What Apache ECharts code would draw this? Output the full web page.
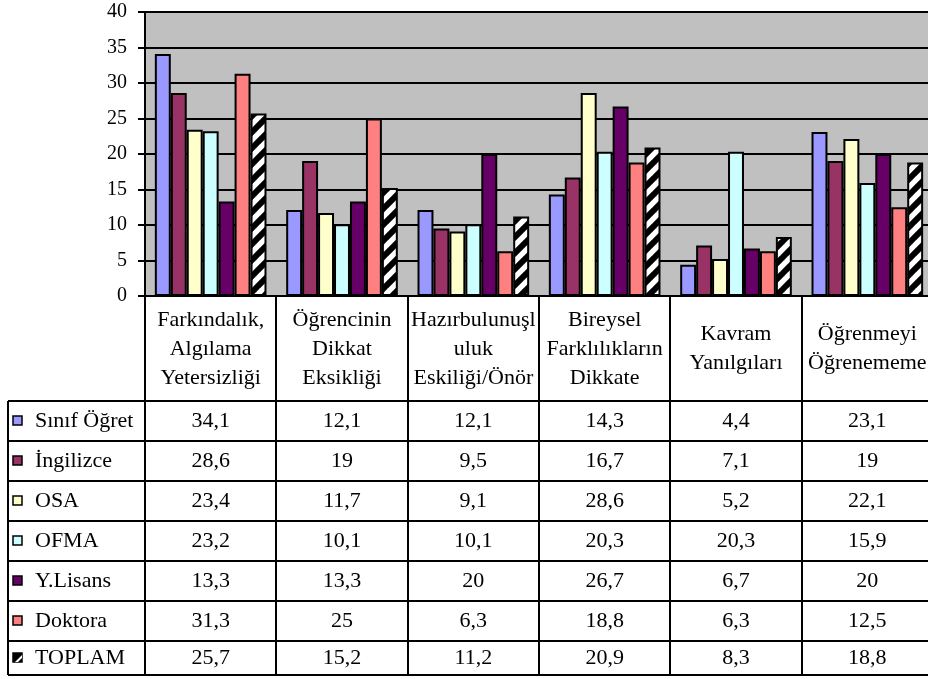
<!DOCTYPE html>
<html>
<head>
<meta charset="utf-8">
<script src="https://cdn.jsdelivr.net/npm/echarts@6/dist/echarts.min.js"></script>
<style>html,body{margin:0;padding:0;background:#fff}#c{width:928px;height:679px}</style>
</head>
<body>
<div id="c"></div>
<script>
// ---- data ----
const categories = ['Farkındalık,\nAlgılama\nYetersizliği', 'Öğrencinin\nDikkat\nEksikliği', 'Hazırbulunuşl\nuluk\nEskiliği/Önör', 'Bireysel\nFarklılıkların\nDikkate', 'Kavram\nYanılgıları', 'Öğrenmeyi\nÖğrenememe'];
const seriesNames = ['Sınıf Öğret', 'İngilizce', 'OSA', 'OFMA', 'Y.Lisans', 'Doktora', 'TOPLAM'];
const sinifOgret = [34.1, 12.1, 12.1, 14.3, 4.4, 23.1];
const ingilizce = [28.6, 19, 9.5, 16.7, 7.1, 19];
const osa = [23.4, 11.7, 9.1, 28.6, 5.2, 22.1];
const ofma = [23.2, 10.1, 10.1, 20.3, 20.3, 15.9];
const yLisans = [13.3, 13.3, 20, 26.7, 6.7, 20];
const doktora = [31.3, 25, 6.3, 18.8, 6.3, 12.5];
const toplam = [25.7, 15.2, 11.2, 20.9, 8.3, 18.8];
const seriesValues = [sinifOgret, ingilizce, osa, ofma, yLisans, doktora, toplam];
const yMin = 0, yMax = 40, yInterval = 5;

// ---- styles ----
const FONT = 'Liberation Serif';
const FS = 22;
const GRID = { left: 145, top: 12, width: 788, height: 284 };
const HEADER_BOTTOM = 401;
const ROW_H = 40;
const TABLE_BOTTOM = 675;
const TABLE_LEFT = 8;

function makeHatch(size, lw) {
  const cv = document.createElement('canvas');
  cv.width = size; cv.height = size;
  const ctx = cv.getContext('2d');
  ctx.fillStyle = '#fff';
  ctx.fillRect(0, 0, size, size);
  ctx.strokeStyle = '#000';
  ctx.lineWidth = lw;
  for (let k = -1; k <= 1; k++) {
    ctx.beginPath();
    ctx.moveTo(k * size - 2, size + 2);
    ctx.lineTo(k * size + size + 2, -2);
    ctx.stroke();
  }
  return cv;
}
const hatch = makeHatch(16, 6);
const colors = ['#9999FF', '#993366', '#FFFFCC', '#CCFFFF', '#660066', '#FF8080', { image: hatch, repeat: 'repeat' }];

const chart = echarts.init(document.getElementById('c'), null, { renderer: 'canvas' });

const series = seriesNames.map((n, i) => ({
  name: n,
  type: 'bar',
  data: seriesValues[i],
  barGap: '0%',
  barCategoryGap: '15%',
  itemStyle: { color: colors[i], borderColor: '#000', borderWidth: 2 },
  emphasis: { disabled: true },
  animation: false
}));

chart.setOption({
  animation: false,
  grid: {
    left: GRID.left, top: GRID.top, width: GRID.width, height: GRID.height,
    show: true, backgroundColor: '#C0C0C0', borderWidth: 0,
    containLabel: false, outerBoundsMode: 'none'
  },
  xAxis: {
    type: 'category',
    data: categories,
    axisLine: { show: true, lineStyle: { color: '#000', width: 2 } },
    axisTick: { show: false },
    splitLine: { show: false },
    axisLabel: {
      interval: 0,
      color: '#000',
      fontFamily: FONT,
      fontSize: FS,
      lineHeight: 29,
      verticalAlign: 'middle',
      align: 'center',
      margin: 53,
      hideOverlap: false
    }
  },
  yAxis: {
    type: 'value',
    min: yMin, max: yMax, interval: yInterval,
    axisLine: { show: true, lineStyle: { color: '#000', width: 2 } },
    axisTick: { show: true, length: 7, lineStyle: { color: '#000', width: 2 } },
    splitLine: { show: true, lineStyle: { color: '#000', width: 2 } },
    axisLabel: { color: '#000', fontFamily: FONT, fontSize: 20, margin: 18 }
  },
  series: series
});

// ---- data table (text drawn from the arrays, positions from the axis) ----
const centers = categories.map((c, i) => chart.convertToPixel({ xAxisIndex: 0 }, i));
const band = centers[1] - centers[0];
const elements = [];
const lineStyle = { stroke: '#000', lineWidth: 2 };
elements.push({ type: 'line', shape: { x1: TABLE_LEFT, y1: HEADER_BOTTOM, x2: TABLE_LEFT, y2: TABLE_BOTTOM }, style: lineStyle, z: 100 });
for (let i = 0; i <= categories.length; i++) {
  const x = Math.round(centers[0] - band / 2 + i * band);
  elements.push({ type: 'line', shape: { x1: x, y1: GRID.top + GRID.height, x2: x, y2: TABLE_BOTTOM }, style: lineStyle, z: 100 });
}
for (let r = 0; r <= seriesNames.length; r++) {
  const y = r < seriesNames.length ? HEADER_BOTTOM + r * ROW_H : TABLE_BOTTOM;
  elements.push({ type: 'line', shape: { x1: TABLE_LEFT, y1: y, x2: 940, y2: y }, style: lineStyle, z: 100 });
}
seriesNames.forEach((name, r) => {
  const top = HEADER_BOTTOM + r * ROW_H;
  const bottom = r < seriesNames.length - 1 ? top + ROW_H : TABLE_BOTTOM;
  const cy = (top + bottom) / 2;
  if (r < seriesNames.length - 1) {
    elements.push({ type: 'rect', shape: { x: 13, y: Math.round(cy - 5), width: 9, height: 9 }, style: { fill: colors[r], stroke: '#000', lineWidth: 1.5 }, z: 101 });
  } else {
    const x0 = 13, y0 = Math.round(cy - 5);
    elements.push({ type: 'rect', shape: { x: x0, y: y0, width: 9, height: 9 }, style: { fill: '#000', stroke: '#000', lineWidth: 1.5 }, z: 101 });
    elements.push({ type: 'polygon', shape: { points: [[x0 + 2, y0 + 9], [x0 + 9, y0 + 2], [x0 + 9, y0 + 5], [x0 + 5, y0 + 9]] }, style: { fill: '#fff' }, z: 102 });
  }
  elements.push({ type: 'text', x: 35, y: cy, style: { text: name, fill: '#000', font: FS + 'px "' + FONT + '"', textAlign: 'left', textVerticalAlign: 'middle' }, z: 101 });
  seriesValues[r].forEach((v, c) => {
    elements.push({ type: 'text', x: centers[c], y: cy, style: { text: String(v).replace('.', ','), fill: '#000', font: FS + 'px "' + FONT + '"', textAlign: 'center', textVerticalAlign: 'middle' }, z: 101 });
  });
});
chart.setOption({ graphic: { elements: elements } });
</script>
</body>
</html>
